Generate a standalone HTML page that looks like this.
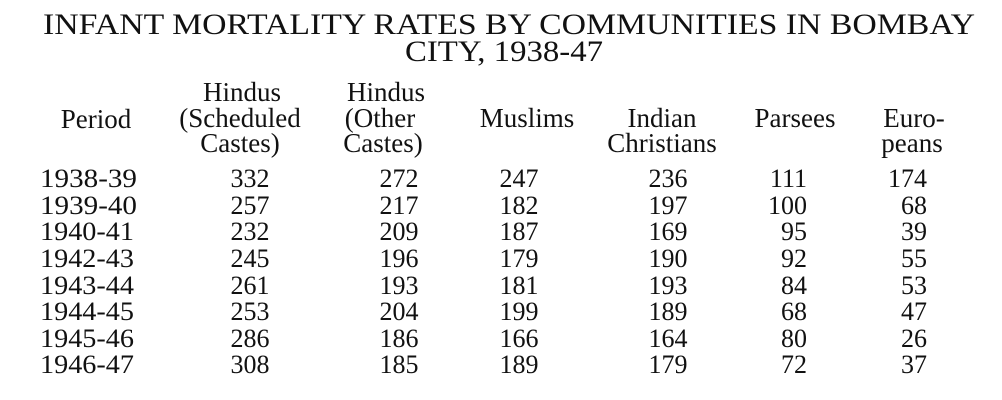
<!DOCTYPE html>
<html><head><meta charset="utf-8"><style>
html,body{margin:0;padding:0;background:#fff;width:1002px;height:400px;overflow:hidden}
svg text{font-family:"Liberation Serif",serif;fill:#111}
</style></head><body>
<svg width="1002" height="400" xmlns="http://www.w3.org/2000/svg">
<g font-size="30">
<text x="43" y="34" textLength="932" lengthAdjust="spacingAndGlyphs">INFANT MORTALITY RATES BY COMMUNITIES IN BOMBAY</text>
<text x="405" y="61" textLength="198" lengthAdjust="spacingAndGlyphs">CITY, 1938-47</text>
</g>
<g font-size="27" text-anchor="middle">
<text x="96" y="128">Period</text>
<text x="242" y="101">Hindus</text><text x="240" y="127">(Scheduled</text><text x="240" y="152">Castes)</text>
<text x="386" y="101">Hindus</text><text x="380" y="127">(Other</text><text x="383" y="152">Castes)</text>
<text x="527" y="127">Muslims</text>
<text x="662" y="127">Indian</text><text x="662" y="152">Christians</text>
<text x="795" y="127">Parsees</text>
<text x="914" y="127">Euro-</text><text x="912" y="152">peans</text>
</g>
<g font-size="26">
<g text-anchor="start">
<text x="40" y="187" textLength="97" lengthAdjust="spacingAndGlyphs">1938-39</text><text x="40" y="214" textLength="97" lengthAdjust="spacingAndGlyphs">1939-40</text><text x="40" y="240" textLength="94" lengthAdjust="spacingAndGlyphs">1940-41</text><text x="40" y="267" textLength="94" lengthAdjust="spacingAndGlyphs">1942-43</text><text x="40" y="294" textLength="94" lengthAdjust="spacingAndGlyphs">1943-44</text><text x="40" y="320" textLength="94" lengthAdjust="spacingAndGlyphs">1944-45</text><text x="40" y="347" textLength="94" lengthAdjust="spacingAndGlyphs">1945-46</text><text x="40" y="373" textLength="94" lengthAdjust="spacingAndGlyphs">1946-47</text>
</g>
<g text-anchor="middle">
<text x="250" y="187">332</text><text x="250" y="214">257</text><text x="250" y="240">232</text><text x="250" y="267">245</text><text x="250" y="294">261</text><text x="250" y="320">253</text><text x="250" y="347">286</text><text x="250" y="373">308</text>
<text x="399" y="187">272</text><text x="399" y="214">217</text><text x="399" y="240">209</text><text x="399" y="267">196</text><text x="399" y="294">193</text><text x="399" y="320">204</text><text x="399" y="347">186</text><text x="399" y="373">185</text>
<text x="519" y="187">247</text><text x="519" y="214">182</text><text x="519" y="240">187</text><text x="519" y="267">179</text><text x="519" y="294">181</text><text x="519" y="320">199</text><text x="519" y="347">166</text><text x="519" y="373">189</text>
<text x="668" y="187">236</text><text x="668" y="214">197</text><text x="668" y="240">169</text><text x="668" y="267">190</text><text x="668" y="294">193</text><text x="668" y="320">189</text><text x="668" y="347">164</text><text x="668" y="373">179</text>
</g>
<g text-anchor="end">
<text x="807" y="187">111</text><text x="807" y="214">100</text><text x="807" y="240">95</text><text x="807" y="267">92</text><text x="807" y="294">84</text><text x="807" y="320">68</text><text x="807" y="347">80</text><text x="807" y="373">72</text>
<text x="927" y="187">174</text><text x="927" y="214">68</text><text x="927" y="240">39</text><text x="927" y="267">55</text><text x="927" y="294">53</text><text x="927" y="320">47</text><text x="927" y="347">26</text><text x="927" y="373">37</text>
</g>
</g>
</svg>
</body></html>
